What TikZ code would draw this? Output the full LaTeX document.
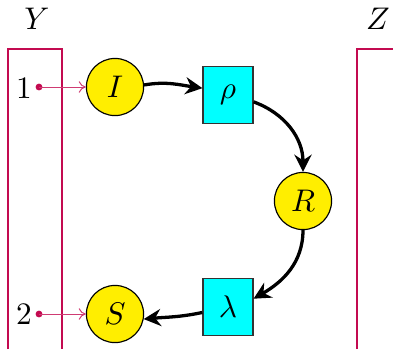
\documentclass[tikz,border=0pt]{standalone}
\usetikzlibrary{arrows.meta}
\definecolor{crim}{RGB}{195,10,80}
\definecolor{yel}{RGB}{255,238,0}
\definecolor{cya}{RGB}{0,255,255}
\begin{document}
\begin{tikzpicture}[x=0.35pt,y=-0.35pt,font=\fontsize{10.8}{13}\selectfont,
  place/.style={circle,draw=black,fill=yel,line width=0.4pt,minimum size=20pt,inner sep=0pt},
  trans/.style={rectangle,draw=black!80,fill=cya,line width=0.4pt,minimum width=17.5pt,minimum height=20pt,inner sep=0pt},
  flow/.style={line width=1.15pt,-{Stealth[length=6pt,width=6pt,inset=2pt]}},
  frame/.style={draw=crim,line width=0.75pt},
  port/.style={draw=crim!80,line width=0.35pt,-{To[length=2.5pt,width=4pt]}}]
\useasboundingbox (0,0) rectangle (393,349);
\draw[frame] (8,349) -- (8,49) -- (62,49) -- (62,349);
\draw[frame] (357,349) -- (357,49) -- (400,49);
\node (Ylab) at (37,19) {$Y$};
\node (Zlab) at (378,19) {$Z$};
\node (I) [place] at (115,87) {$I$};
\node (S) [place] at (115,314) {$S$};
\node (R) [place] at (303,201) {$R$};
\node (rho) [trans] at (228,95) {$\rho$};
\node (lam) [trans] at (228,307) {$\lambda$};
\node (one) at (24,88) {$1$};
\node (two) at (24,314) {$2$};
\coordinate (d1) at (39,87);
\coordinate (d2) at (39,314);
\fill[crim] (d1) circle (1.2pt);
\fill[crim] (d2) circle (1.2pt);
\draw[port] (d1) -- (I.west);
\draw[port] (d2) -- (S.west);
\draw[flow] (I.4) to[out=10,in=172] (rho.165);
\draw[flow] (rho.-15) to[out=-20,in=90] (R.north);
\draw[flow] (R.south) to[out=-90,in=30] (lam.18);
\draw[flow] (lam.192) to[out=192,in=5] (S.-10);
\end{tikzpicture}
\end{document}
